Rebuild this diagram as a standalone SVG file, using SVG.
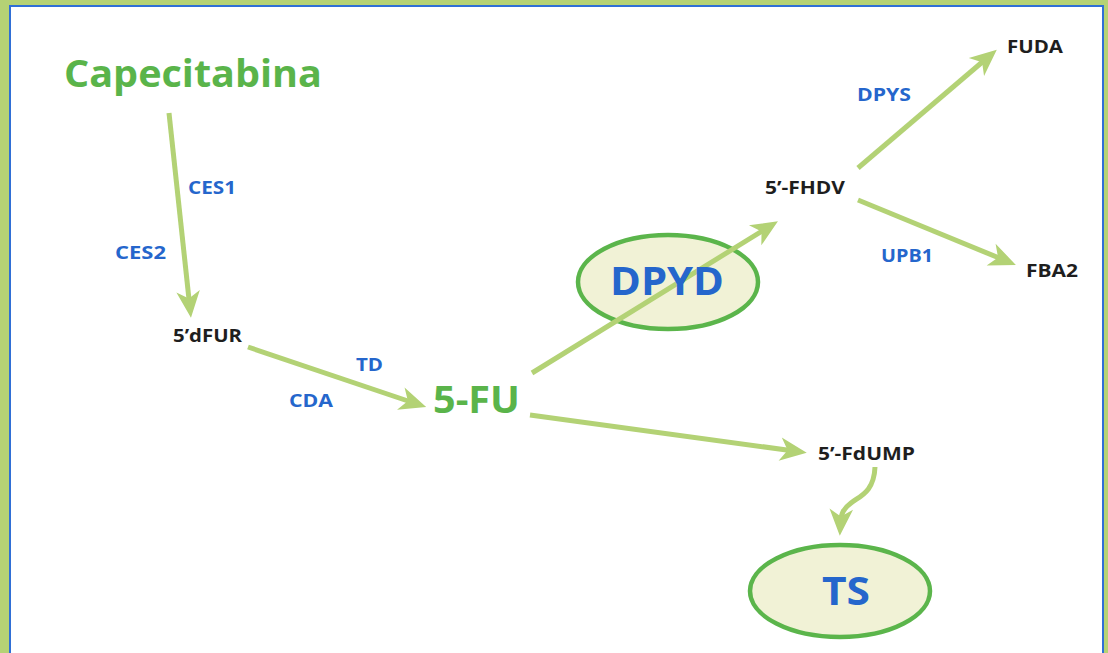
<svg xmlns="http://www.w3.org/2000/svg" width="1108" height="653" viewBox="0 0 1108 653">
  <defs>
    <style>
      .lbl { font-family: "Open Sans", "Liberation Sans", sans-serif; font-weight: 700; }
      .big { font-size: 37px; fill: #5ab44a; }
      .enz { font-size: 18.5px; fill: #2566cc; }
      .met { font-size: 18.5px; fill: #1e1e1e; }
      .gene { font-size: 40px; fill: #2566cc; }
      .edge { fill: none; stroke: #b3d275; stroke-width: 5; marker-end: url(#head); }
      .oval { fill: #f1f2d6; stroke: #5bb54b; stroke-width: 4.5; }
    </style>
    <marker id="head" markerUnits="userSpaceOnUse" markerWidth="30" markerHeight="30" viewBox="-26 -13 28 26" refX="-12" refY="0" orient="auto">
      <path d="M0,0 L-25,-11 L-18,0 L-25,11 Z" fill="#b3d275"/>
    </marker>
  </defs>

  <!-- frame -->
  <rect x="0" y="0" width="1108" height="653" fill="#b5d275"/>
  <rect x="10" y="6" width="1093" height="670" fill="#ffffff" stroke="#2f6fd6" stroke-width="2"/>

  <!-- enzyme ovals sit under the arrows -->
  <g id="dpyd">
    <ellipse class="oval" cx="668" cy="282" rx="90" ry="47"/>
  </g>

  <!-- connectors -->
  <g id="connectors">
    <path class="edge" d="M169,113 L189.6,305"/>
    <path class="edge" d="M248,347 L414,403"/>
    <path class="edge" d="M532,373 L767,228"/>
    <path class="edge" d="M858,168 L987,58"/>
    <path class="edge" d="M858,200 L1004,260"/>
    <path class="edge" d="M530,415 L794,451"/>
    <path class="edge" d="M875,467 C874,492 860,496 851,503 C843,509 841,514 840.5,523"/>
  </g>

  <!-- nodes -->
  <g id="dpyd-label">
    <text class="lbl gene" x="610" y="295" textLength="114" lengthAdjust="spacingAndGlyphs">DPYD</text>
  </g>
  <g id="capecitabina">
    <text class="lbl big" x="64" y="87" textLength="258" lengthAdjust="spacingAndGlyphs">Capecitabina</text>
  </g>
  <g id="ces1"><text class="lbl enz" x="188" y="194" textLength="48" lengthAdjust="spacingAndGlyphs">CES1</text></g>
  <g id="ces2"><text class="lbl enz" x="115" y="259" textLength="51" lengthAdjust="spacingAndGlyphs">CES2</text></g>
  <g id="dfur"><text class="lbl met" x="173" y="342" textLength="69" lengthAdjust="spacingAndGlyphs">5’dFUR</text></g>
  <g id="td"><text class="lbl enz" x="356" y="371" textLength="27" lengthAdjust="spacingAndGlyphs">TD</text></g>
  <g id="cda"><text class="lbl enz" x="289" y="407" textLength="44" lengthAdjust="spacingAndGlyphs">CDA</text></g>
  <g id="fu">
    <text class="lbl big" x="433" y="413" textLength="87" lengthAdjust="spacingAndGlyphs">5-FU</text>
  </g>
  <g id="fhdv"><text class="lbl met" x="765" y="194" textLength="80" lengthAdjust="spacingAndGlyphs">5’-FHDV</text></g>
  <g id="dpys"><text class="lbl enz" x="857" y="101" textLength="54" lengthAdjust="spacingAndGlyphs">DPYS</text></g>
  <g id="fuda"><text class="lbl met" x="1007" y="53" textLength="56" lengthAdjust="spacingAndGlyphs">FUDA</text></g>
  <g id="upb1"><text class="lbl enz" x="881" y="262" textLength="52" lengthAdjust="spacingAndGlyphs">UPB1</text></g>
  <g id="fba2"><text class="lbl met" x="1026" y="277" textLength="52" lengthAdjust="spacingAndGlyphs">FBA2</text></g>
  <g id="fdump"><text class="lbl met" x="818" y="460" textLength="97" lengthAdjust="spacingAndGlyphs">5’-FdUMP</text></g>
  <g id="ts">
    <ellipse class="oval" cx="840" cy="591" rx="90" ry="46"/>
    <text class="lbl gene" x="822" y="605" textLength="48" lengthAdjust="spacingAndGlyphs">TS</text>
  </g>
</svg>
